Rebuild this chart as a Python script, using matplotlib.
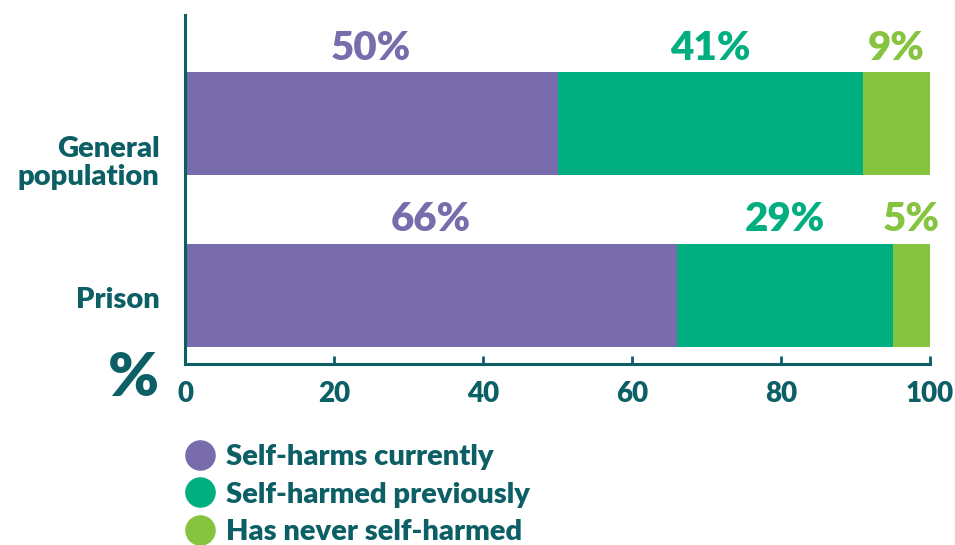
import matplotlib.pyplot as plt
from matplotlib.lines import Line2D

groups = ["Prison", "General\npopulation"]
series = ["Self-harms currently", "Self-harmed previously", "Has never self-harmed"]
values = {
    "Self-harms currently": [66, 50],
    "Self-harmed previously": [29, 41],
    "Has never self-harmed": [5, 9],
}
colors = ["#786cac", "#00ae80", "#86c440"]
dark = "#0d5f66"
wt = "heavy"

plt.rcParams["font.family"] = ["Lato", "DejaVu Sans"]
plt.rcParams["font.weight"] = wt

fig = plt.figure(figsize=(9.55, 5.45), dpi=100)
ax = fig.add_axes([185 / 955, 181 / 545, 745 / 955, 349 / 545])

ypos = [0, 1]
h = 0.6
left = [0, 0]
for name, col in zip(series, colors):
    vals = values[name]
    ax.barh(ypos, vals, height=h, left=left, color=col, label=name)
    for y, l, v in zip(ypos, left, vals):
        ax.text(l + v / 2, y + h / 2 + 0.03, f"{v}%", ha="center", va="bottom",
                fontsize=29, fontweight=wt, color=col)
    left = [a + b for a, b in zip(left, vals)]

ax.set_xlim(0, 100)
ax.set_ylim(-0.402, 1.633)
ax.set_yticks(ypos)
ax.set_yticklabels([])
# group names sit a little below the bar centres
label_shift = [-0.03, -0.23]
for y, s, g in zip(ypos, label_shift, groups):
    ax.text(-0.034, y + s, g, transform=ax.get_yaxis_transform(), ha="right",
            va="center", fontsize=21, fontweight=wt, color=dark, linespacing=1.1)

ax.set_xticks([0, 20, 40, 60, 80, 100])
ax.tick_params(axis="x", direction="in", length=6, width=2, color=dark,
               labelsize=20, labelcolor=dark, pad=12)
ax.tick_params(axis="y", length=0)
for lab in ax.get_xticklabels():
    lab.set_fontweight(wt)

for s in ["top", "right"]:
    ax.spines[s].set_visible(False)
for s in ["left", "bottom"]:
    ax.spines[s].set_color(dark)
    ax.spines[s].set_linewidth(2.2)

fig.text(133 / 955, 1 - 378 / 545, "%", ha="center", va="center",
         fontsize=44, fontweight=wt, color=dark)

handles = [Line2D([], [], marker="o", linestyle="", markersize=21,
                  markerfacecolor=c, markeredgecolor=c) for c in colors]
leg = fig.legend(handles, series, loc="upper left",
                 bbox_to_anchor=(182 / 955, 1 - 444 / 545), frameon=False,
                 fontsize=21, labelspacing=0.4, handletextpad=0.3,
                 handlelength=1.2, borderaxespad=0, borderpad=0)
for t in leg.get_texts():
    t.set_color(dark)
    t.set_fontweight(wt)

fig.savefig("out.png", dpi=100)
